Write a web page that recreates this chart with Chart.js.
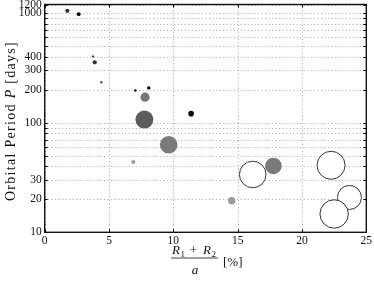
<!DOCTYPE html>
<html><head><meta charset="utf-8">
<script src="https://cdn.jsdelivr.net/npm/chart.js@4"></script>
<style>html,body{margin:0;padding:0;background:#fff}#wrap{width:374px;height:281px}</style>
</head><body><div id="wrap"><canvas id="c" width="374" height="281"></canvas></div>
<script>
// Data
const xVals   = [23.69, 22.26, 16.17, 22.50, 1.76, 2.64, 3.76, 3.89, 4.40, 7.05, 8.09, 7.80, 7.75, 11.38, 9.64, 6.89, 17.78, 14.54];
const periods = [20.8, 40.9, 33.7, 14.7, 1050, 980, 403, 356, 234, 197, 208, 171, 107, 121, 63, 43.8, 40.3, 19.4];
const sizes   = [12, 14, 13.3, 14.2, 2.1, 1.9, 1.2, 2.1, 1.2, 1.2, 1.7, 4.6, 9, 2.8, 8.8, 2, 8.3, 3.7];
const shades  = ['open','open','open','open','#333','#000','#444','#333','#555','#000','#000','#777','#5c5c5c','#000','#7a7a7a','#9a9a9a','#7a7a7a','#9a9a9a'];
const xTicks  = [0, 5, 10, 15, 20, 25];
const yGrid   = [10,20,30,40,50,60,70,80,90,100,200,300,400,500,600,700,800,900,1000,1200];
const yLabels = [10, 20, 30, 100, 200, 300, 400, 1000, 1200];

const SERIF = '"Liberation Serif", "DejaVu Serif", serif';
const points = xVals.map((x, i) => ({x: x, y: periods[i], r: sizes[i]}));
const fills = shades.map(s => s === 'open' ? '#ffffff' : s);
const borders = shades.map(s => s === 'open' ? '#333333' : s);
const bw = shades.map(s => s === 'open' ? 1 : 0);

const boxPlugin = {
  id: 'box',
  beforeDatasetsDraw(chart) {
    const {ctx, chartArea: a, scales} = chart;
    ctx.save();
    ctx.strokeStyle = '#a0a0a0';
    ctx.lineWidth = 1;
    ctx.setLineDash([1, 2.5]);
    yGrid.forEach(v => {
      const y = Math.round(scales.y.getPixelForValue(v)) + 0.5;
      ctx.beginPath(); ctx.moveTo(a.left, y); ctx.lineTo(a.right, y); ctx.stroke();
    });
    xTicks.forEach(v => {
      const x = Math.round(scales.x.getPixelForValue(v)) + 0.5;
      ctx.beginPath(); ctx.moveTo(x, a.bottom); ctx.lineTo(x, a.top); ctx.stroke();
    });
    ctx.restore();
  },
  afterDatasetsDraw(chart) {
    const {ctx, chartArea: a, scales} = chart;
    ctx.save();
    ctx.strokeStyle = '#000';
    ctx.lineWidth = 1;
    yGrid.forEach(v => {
      const y = Math.round(scales.y.getPixelForValue(v)) + 0.5;
      ctx.beginPath();
      ctx.moveTo(a.left, y); ctx.lineTo(a.left + 3, y);
      ctx.moveTo(a.right, y); ctx.lineTo(a.right - 3, y);
      ctx.stroke();
    });
    xTicks.forEach(v => {
      const x = Math.round(scales.x.getPixelForValue(v)) + 0.5;
      ctx.beginPath();
      ctx.moveTo(x, a.bottom); ctx.lineTo(x, a.bottom - 3);
      ctx.moveTo(x, a.top); ctx.lineTo(x, a.top + 3);
      ctx.stroke();
    });
    ctx.lineWidth = 1.4;
    ctx.strokeStyle = '#111';
    ctx.strokeRect(a.left, a.top, a.right - a.left, a.bottom - a.top);
    ctx.restore();
  },
  afterDraw(chart) {
    const {ctx, chartArea: a, scales} = chart;
    ctx.save();
    ctx.fillStyle = '#111';
    // tick labels
    ctx.font = '11.5px ' + SERIF;
    ctx.textAlign = 'right';
    ctx.textBaseline = 'middle';
    yLabels.forEach(v => {
      ctx.fillText(String(v), a.left - 3, scales.y.getPixelForValue(v));
    });
    ctx.textAlign = 'center';
    ctx.textBaseline = 'top';
    xTicks.forEach(v => {
      ctx.fillText(String(v), scales.x.getPixelForValue(v), a.bottom + 3);
    });
    ctx.textBaseline = 'alphabetic';
    // Y title: Orbital Period P [days]
    const parts = [['Orbital Period ', 'normal'], ['P', 'italic'], [' [days]', 'normal']];
    ctx.translate(15, 121);
    ctx.rotate(-Math.PI / 2);
    ctx.textAlign = 'left';
    ctx.letterSpacing = '1.3px';
    let total = 0;
    parts.forEach(p => { ctx.font = p[1] + ' 14px ' + SERIF; total += ctx.measureText(p[0]).width; });
    let x = -total / 2;
    parts.forEach(p => { ctx.font = p[1] + ' 14px ' + SERIF; ctx.fillText(p[0], x, 0); x += ctx.measureText(p[0]).width; });
    ctx.setTransform(1, 0, 0, 1, 0, 0);
    ctx.letterSpacing = '0px';
    // X title: (R1 + R2)/a [%]
    ctx.textAlign = 'left';
    ctx.font = 'italic 13px ' + SERIF; ctx.fillText('R', 172, 254);
    ctx.font = 'normal 9px ' + SERIF;  ctx.fillText('1', 180.5, 256.5);
    ctx.font = 'normal 13px ' + SERIF; ctx.textAlign = 'center'; ctx.fillText('+', 193.5, 254);
    ctx.textAlign = 'left';
    ctx.font = 'italic 13px ' + SERIF; ctx.fillText('R', 203, 254);
    ctx.font = 'normal 9px ' + SERIF;  ctx.fillText('2', 211.5, 256.5);
    ctx.strokeStyle = '#111';
    ctx.lineWidth = 0.8;
    ctx.beginPath(); ctx.moveTo(171, 258); ctx.lineTo(218, 258); ctx.stroke();
    ctx.font = 'italic 13px ' + SERIF;
    ctx.textAlign = 'center';
    ctx.fillText('a', 195, 274);
    ctx.textAlign = 'left';
    ctx.font = 'normal 13px ' + SERIF;
    ctx.fillText('[%]', 223, 266);
    ctx.restore();
  }
};

new Chart(document.getElementById('c'), {
  type: 'bubble',
  data: {
    datasets: [{
      data: points,
      backgroundColor: fills,
      borderColor: borders,
      borderWidth: bw,
      hoverBorderWidth: bw
    }]
  },
  options: {
    responsive: false,
    animation: false,
    events: [],
    layout: {autoPadding: false, padding: {left: 0, right: 7.7, top: 4.5, bottom: 0}},
    plugins: {legend: {display: false}, tooltip: {enabled: false}},
    scales: {
      x: {
        type: 'linear', min: 0, max: 25,
        afterFit(s) { s.height = 48.7; },
        afterBuildTicks(s) { s.ticks = xTicks.map(v => ({value: v})); },
        ticks: {display: false},
        grid: {display: false, drawTicks: false},
        border: {display: false}
      },
      y: {
        type: 'logarithmic', min: 10, max: 1200,
        afterFit(s) { s.width = 44.7; },
        afterBuildTicks(s) { s.ticks = yGrid.map(v => ({value: v})); },
        ticks: {display: false},
        grid: {display: false, drawTicks: false},
        border: {display: false}
      }
    }
  },
  plugins: [boxPlugin]
});
</script>
</body></html>
